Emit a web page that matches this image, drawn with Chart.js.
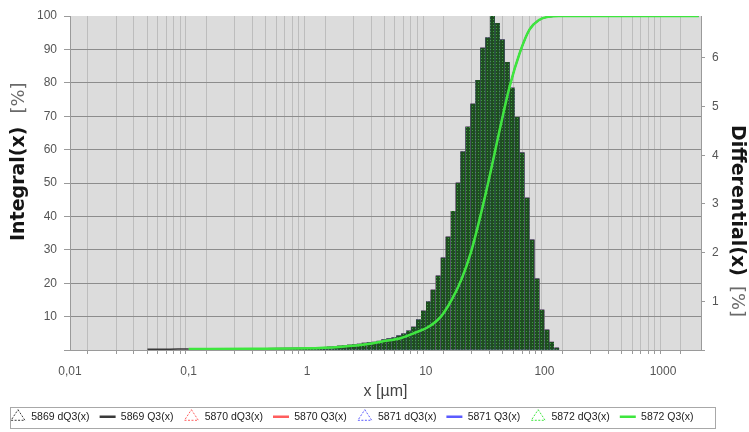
<!DOCTYPE html>
<html>
<head>
<meta charset="utf-8">
<script src="https://cdn.jsdelivr.net/npm/chart.js@4.4.1/dist/chart.umd.min.js"></script>
<style>
  html, body { margin: 0; padding: 0; background: #fff; }
</style>
</head>
<body>
<canvas id="psdChart" width="749" height="432"></canvas>
<script>
// size classes (µm) - centre of each histogram bar
const sizes = [
  0.105, 0.115, 0.127, 0.140, 0.154, 0.170, 0.187, 0.205, 0.226, 0.249, 0.274, 0.301,
  0.332, 0.365, 0.402, 0.442, 0.487, 0.536, 0.590, 0.649, 0.715, 0.787, 0.866, 0.953,
  1.05, 1.15, 1.27, 1.40, 1.54, 1.70, 1.87, 2.05, 2.26, 2.49, 2.74, 3.01,
  3.32, 3.65, 4.02, 4.42, 4.87, 5.36, 5.90, 6.49, 7.15, 7.87, 8.66, 9.53,
  10.5, 11.5, 12.7, 14.0, 15.4, 17.0, 18.7, 20.5, 22.6, 24.9, 27.4, 30.1,
  33.2, 36.5, 40.2, 44.2, 48.7, 53.6, 59.0, 64.9, 71.5, 78.7, 86.6, 95.3,
  105, 115, 127
];
// differential dQ3(x) [%] per class (right axis)
const dq3 = [
  0.01, 0.01, 0.01, 0.01, 0.01, 0.01, 0.01, 0.01, 0.01, 0.01, 0.01, 0.01,
  0.01, 0.01, 0.01, 0.01, 0.01, 0.01, 0.01, 0.01, 0.01, 0.02, 0.02, 0.02,
  0.02, 0.03, 0.04, 0.05, 0.06, 0.07, 0.08, 0.09, 0.10, 0.11, 0.12, 0.14,
  0.15, 0.16, 0.18, 0.21, 0.23, 0.25, 0.29, 0.33, 0.39, 0.47, 0.62, 0.80,
  0.99, 1.23, 1.52, 1.89, 2.32, 2.85, 3.43, 4.07, 4.58, 5.05, 5.54, 6.20,
  6.41, 6.86, 6.71, 6.37, 5.91, 5.38, 4.78, 4.05, 3.12, 2.26, 1.46, 0.82,
  0.41, 0.16, 0.04
];

// cumulative Q3(x) [%] (left axis)
const q3Sizes = [0.1, 0.34, 1.0, 1.94, 3.26, 4.2, 6.2, 7.9, 10.4, 13.4, 16.5, 19.9,
  23.9, 28.8, 35, 42, 51, 62, 75, 90, 109, 132, 2000];
const q3 = [0.3, 0.4, 0.5, 1.0, 1.8, 2.5, 3.6, 5.0, 6.8, 10, 15, 21,
  29, 40, 53, 66, 79, 89, 96, 98.8, 99.8, 100, 100];
// sample 5869 starts a bit finer
const q3LowSizes = [0.045, 0.07];
const q3Low = [0.2, 0.25];

const samples = ['5869', '5870', '5871', '5872'];
const sampleColors = ['#3a3a3a', '#ff5d5d', '#5b5bff', '#3ee63e'];

const decades = [0.01, 0.1, 1, 10, 100, 1000];
const decadeLabels = ['0,01', '0,1', '1', '10', '100', '1000'];

function pts(xs, ys) {
    return xs.map((x, i) => ({ x: x, y: ys[i] }));
}

// log grid lines 1..9 x 10^n
let gridValues = [];
decades.forEach(d => {
    for (let m = 1; m <= 9; m++) {
        let v = +(m * d).toPrecision(3);
        if (v <= 2090) gridValues.push(v);
    }
});

const ctx = document.getElementById('psdChart').getContext('2d');

function dottedGreen() {
    const c = document.createElement('canvas');
    c.width = 3; c.height = 3;
    const g = c.getContext('2d');
    g.fillStyle = '#1e4d20';
    g.fillRect(0, 0, 3, 3);
    g.fillStyle = '#3f9c3d';
    g.fillRect(1, 1, 1, 1);
    return ctx.createPattern(c, 'repeat');
}

let datasets = [];
samples.forEach((s, i) => {
    let last = i === samples.length - 1;
    datasets.push({
        type: 'bar',
        label: s + ' dQ3(x)',
        data: pts(sizes, dq3),
        yAxisID: 'y2',
        backgroundColor: last ? dottedGreen() : sampleColors[i],
        legendColor: sampleColors[i],
        barThickness: 4,
        grouped: false,
        order: 10 - i
    });
    let xs = i === 0 ? q3LowSizes.concat(q3Sizes) : q3Sizes;
    let ys = i === 0 ? q3Low.concat(q3) : q3;
    datasets.push({
        type: 'line',
        label: s + ' Q3(x)',
        data: pts(xs, ys),
        yAxisID: 'y',
        borderColor: sampleColors[i],
        backgroundColor: sampleColors[i],
        borderWidth: last ? 2.5 : 1.5,
        pointRadius: 0,
        cubicInterpolationMode: 'monotone',
        order: 4 - i
    });
});

const decor = {
    id: 'decor',
    beforeDraw(chart) {
        const a = chart.chartArea;
        const c = chart.ctx;
        c.save();
        c.fillStyle = '#dcdcdc';
        c.fillRect(a.left, a.top, a.right - a.left, a.bottom - a.top);
        c.restore();
    },
    afterDraw(chart) {
        const c = chart.ctx;
        c.save();
        // left axis title
        c.textBaseline = 'middle';
        c.textAlign = 'left';
        c.translate(19, 241);
        c.rotate(-Math.PI / 2);
        c.font = 'bold 19px "DejaVu Sans"';
        c.fillStyle = '#151515';
        c.fillText('Integral(x)', 0, 0);
        let w = c.measureText('Integral(x)').width;
        c.font = '18px "DejaVu Sans"';
        c.fillStyle = '#6a6a6a';
        c.fillText('[%]', w + 13, 0);
        c.restore();

        c.save();
        c.textBaseline = 'middle';
        c.textAlign = 'left';
        c.translate(737, 125);
        c.rotate(Math.PI / 2);
        c.font = 'bold 19px "DejaVu Sans"';
        c.fillStyle = '#151515';
        c.fillText('Differential(x)', 0, 0);
        w = c.measureText('Differential(x)').width;
        c.font = '18px "DejaVu Sans"';
        c.fillStyle = '#6a6a6a';
        c.fillText('[%]', w + 10, 0);
        c.restore();

        // frame round the legend
        const hb = chart.legend.legendHitBoxes;
        if (hb && hb.length) {
            let top = Math.min(...hb.map(b => b.top)) - 5;
            let bottom = Math.max(...hb.map(b => b.top + b.height)) + 5;
            c.save();
            c.strokeStyle = '#a8a8a8';
            c.lineWidth = 1;
            c.strokeRect(10.5, Math.round(top) + 0.5, chart.chartArea.right + 14 - 10, Math.round(bottom - top));
            c.restore();
        }
    }
};

Chart.defaults.font.family = '"Liberation Sans", Arial, sans-serif';

const myChart = new Chart(ctx, {
    type: 'bar',
    data: { datasets: datasets },
    options: {
        responsive: false,
        animation: false,
        devicePixelRatio: 1,
        layout: { padding: { top: 16, left: 0, right: 0, bottom: 0 } },
        plugins: {
            tooltip: { enabled: false },
            legend: {
                position: 'bottom',
                align: 'start',
                labels: {
                    usePointStyle: true,
                    pointStyleWidth: 16,
                    boxHeight: 10,
                    padding: 10,
                    color: '#222',
                    font: { size: 10.5 },
                    sort: (a, b) => a.datasetIndex - b.datasetIndex,
                    generateLabels(chart) {
                        const items = Chart.defaults.plugins.legend.labels.generateLabels(chart);
                        items.forEach(it => {
                            const ds = chart.data.datasets[it.datasetIndex];
                            if (ds.type === 'bar') {
                                it.pointStyle = 'triangle';
                                it.fillStyle = 'rgba(0,0,0,0)';
                                it.strokeStyle = ds.legendColor;
                                it.lineWidth = 1;
                                it.lineDash = [2, 1.5];
                            } else {
                                it.pointStyle = 'line';
                                it.strokeStyle = ds.borderColor;
                                it.lineWidth = 2.5;
                                it.lineDash = [];
                            }
                        });
                        return items;
                    }
                }
            }
        },
        scales: {
            x: {
                type: 'logarithmic',
                min: 0.01,
                max: 2090,
                afterBuildTicks: s => { s.ticks = gridValues.map(v => ({ value: v })); },
                afterFit: s => { s.height = 432 - 350 - s.chart.legend.height; },
                ticks: {
                    autoSkip: false,
                    maxRotation: 0,
                    padding: 10,
                    color: '#555',
                    font: { size: 12 },
                    callback: v => {
                        let i = decades.indexOf(v);
                        return i >= 0 ? decadeLabels[i] : '';
                    }
                },
                grid: { color: '#bdbdbd', tickColor: '#9a9a9a', tickLength: 4 },
                border: { color: '#9a9a9a' },
                title: {
                    display: true,
                    text: 'x [µm]',
                    color: '#444',
                    font: { size: 16 },
                    padding: { top: 2, bottom: 0 }
                }
            },
            y: {
                position: 'left',
                min: 0,
                max: 100,
                afterFit: s => { s.width = 70; },
                ticks: {
                    stepSize: 10,
                    padding: 7,
                    color: '#555',
                    font: { size: 12 },
                    callback: v => v === 0 ? '' : v
                },
                grid: {
                    color: c => c.tick && c.tick.value === 100 ? 'rgba(0,0,0,0)' : '#8c8c8c',
                    tickColor: '#9a9a9a',
                    tickLength: 6
                },
                border: { color: '#9a9a9a' }
            },
            y2: {
                position: 'right',
                min: 0,
                max: 6.86,
                afterFit: s => { s.width = 48; },
                ticks: {
                    stepSize: 1,
                    includeBounds: false,
                    padding: 7,
                    color: '#555',
                    font: { size: 12 },
                    callback: v => v === 0 ? '' : v
                },
                grid: { drawOnChartArea: false, tickColor: '#9a9a9a', tickLength: 4 },
                border: { color: '#9a9a9a' }
            }
        }
    },
    plugins: [decor]
});
</script>
</body>
</html>
